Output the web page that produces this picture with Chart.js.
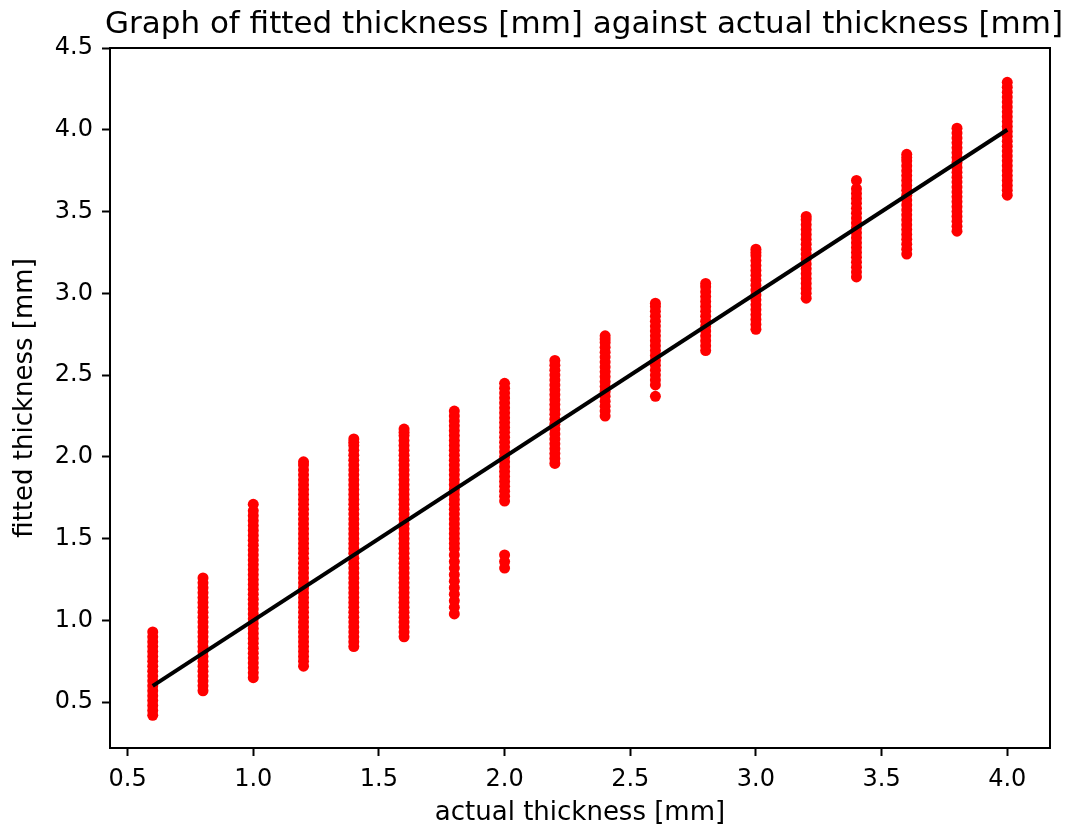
<!DOCTYPE html>
<html>
<head>
<meta charset="utf-8">
<script src="https://cdn.jsdelivr.net/npm/chart.js"></script>
<style>
html, body { margin: 0; padding: 0; background: #fff; }
</style>
</head>
<body>
<canvas id="mycanvas" width="1074" height="829"></canvas>
<script>
// actual thickness of each column [mm]
var actual = [0.6, 0.8, 1.0, 1.2, 1.4, 1.6, 1.8, 2.0, 2.2, 2.4, 2.6, 2.8, 3.0, 3.2, 3.4, 3.6, 3.8, 4.0];

// fitted thickness [mm]
var f06 = [0.42, 0.45, 0.48, 0.51, 0.54, 0.57, 0.60, 0.63, 0.66, 0.69, 0.72, 0.75, 0.78, 0.81, 0.84, 0.87, 0.90, 0.93];
var f08 = [0.57, 0.60, 0.63, 0.66, 0.69, 0.72, 0.75, 0.78, 0.81, 0.84, 0.87, 0.90, 0.93, 0.96, 0.99, 1.02, 1.05, 1.08, 1.11, 1.14, 1.17, 1.20, 1.23, 1.26];
var f10 = [0.65, 0.68, 0.71, 0.74, 0.77, 0.80, 0.83, 0.86, 0.89, 0.92, 0.95, 0.98, 1.01, 1.04, 1.07, 1.10, 1.13, 1.16, 1.19, 1.22, 1.25, 1.28, 1.31, 1.34, 1.37, 1.40, 1.43, 1.46, 1.49, 1.52, 1.55, 1.58, 1.61, 1.64, 1.67, 1.71];
var f12 = [0.72, 0.75, 0.78, 0.81, 0.84, 0.87, 0.90, 0.93, 0.96, 0.99, 1.02, 1.05, 1.08, 1.11, 1.14, 1.17, 1.20, 1.23, 1.26, 1.29, 1.32, 1.35, 1.38, 1.41, 1.44, 1.47, 1.50, 1.53, 1.56, 1.59, 1.62, 1.65, 1.68, 1.71, 1.74, 1.77, 1.80, 1.83, 1.86, 1.89, 1.92, 1.95, 1.97];
var f14 = [0.84, 0.87, 0.90, 0.93, 0.96, 0.99, 1.02, 1.05, 1.08, 1.11, 1.14, 1.17, 1.20, 1.23, 1.26, 1.29, 1.32, 1.35, 1.38, 1.41, 1.44, 1.47, 1.50, 1.53, 1.56, 1.59, 1.62, 1.65, 1.68, 1.71, 1.74, 1.77, 1.80, 1.83, 1.86, 1.89, 1.92, 1.95, 1.98, 2.01, 2.04, 2.07, 2.09, 2.11];
var f16 = [0.90, 0.93, 0.96, 0.99, 1.02, 1.05, 1.08, 1.11, 1.14, 1.17, 1.20, 1.23, 1.26, 1.29, 1.32, 1.35, 1.38, 1.41, 1.44, 1.47, 1.50, 1.53, 1.56, 1.59, 1.62, 1.65, 1.68, 1.71, 1.74, 1.77, 1.80, 1.83, 1.86, 1.89, 1.92, 1.95, 1.98, 2.01, 2.04, 2.07, 2.10, 2.13, 2.15, 2.17];
var f18 = [1.04, 1.08, 1.12, 1.16, 1.20, 1.24, 1.28, 1.32, 1.36, 1.40, 1.44, 1.47, 1.50, 1.53, 1.56, 1.59, 1.62, 1.65, 1.68, 1.71, 1.74, 1.77, 1.80, 1.83, 1.86, 1.89, 1.92, 1.95, 1.98, 2.01, 2.04, 2.07, 2.10, 2.13, 2.16, 2.19, 2.22, 2.25, 2.28];
var f20 = [1.32, 1.36, 1.40, 1.73, 1.76, 1.79, 1.82, 1.85, 1.88, 1.91, 1.94, 1.97, 2.00, 2.03, 2.06, 2.09, 2.12, 2.15, 2.18, 2.21, 2.24, 2.27, 2.30, 2.33, 2.36, 2.39, 2.42, 2.45];
var f22 = [1.96, 1.99, 2.02, 2.05, 2.08, 2.11, 2.14, 2.17, 2.20, 2.23, 2.26, 2.29, 2.32, 2.35, 2.38, 2.41, 2.44, 2.47, 2.50, 2.53, 2.56, 2.59];
var f24 = [2.25, 2.28, 2.31, 2.34, 2.37, 2.40, 2.43, 2.46, 2.49, 2.52, 2.55, 2.58, 2.61, 2.64, 2.67, 2.70, 2.72, 2.74];
var f26 = [2.37, 2.44, 2.47, 2.50, 2.53, 2.56, 2.59, 2.62, 2.65, 2.68, 2.71, 2.74, 2.77, 2.80, 2.83, 2.86, 2.89, 2.92, 2.94];
var f28 = [2.65, 2.68, 2.71, 2.74, 2.77, 2.80, 2.83, 2.86, 2.89, 2.92, 2.95, 2.98, 3.01, 3.04, 3.06];
var f30 = [2.78, 2.81, 2.84, 2.87, 2.90, 2.93, 2.96, 2.99, 3.02, 3.05, 3.08, 3.11, 3.14, 3.17, 3.20, 3.23, 3.25, 3.27];
var f32 = [2.97, 3.00, 3.03, 3.06, 3.09, 3.12, 3.15, 3.18, 3.21, 3.24, 3.27, 3.30, 3.33, 3.36, 3.39, 3.42, 3.45, 3.47];
var f34 = [3.10, 3.13, 3.16, 3.19, 3.22, 3.25, 3.28, 3.31, 3.34, 3.37, 3.40, 3.43, 3.46, 3.49, 3.52, 3.55, 3.58, 3.61, 3.64, 3.69];
var f36 = [3.24, 3.27, 3.30, 3.33, 3.36, 3.39, 3.42, 3.45, 3.48, 3.51, 3.54, 3.57, 3.60, 3.63, 3.66, 3.69, 3.72, 3.75, 3.78, 3.81, 3.83, 3.85];
var f38 = [3.38, 3.41, 3.44, 3.47, 3.50, 3.53, 3.56, 3.59, 3.62, 3.65, 3.68, 3.71, 3.74, 3.77, 3.80, 3.83, 3.86, 3.89, 3.92, 3.95, 3.98, 4.01];
var f40 = [3.60, 3.63, 3.66, 3.69, 3.72, 3.75, 3.78, 3.81, 3.84, 3.87, 3.90, 3.93, 3.96, 3.99, 4.02, 4.05, 4.08, 4.11, 4.14, 4.17, 4.20, 4.23, 4.26, 4.29];

// reference line y = x
var lineX = [0.6, 4.0];
var lineY = [0.6, 4.0];

var xTicks = [0.5, 1.0, 1.5, 2.0, 2.5, 3.0, 3.5, 4.0];
var yTicks = [0.5, 1.0, 1.5, 2.0, 2.5, 3.0, 3.5, 4.0, 4.5];

var titleText = "Graph of fitted thickness [mm] against actual thickness [mm]";

var fitted = [f06, f08, f10, f12, f14, f16, f18, f20, f22, f24, f26, f28, f30, f32, f34, f36, f38, f40];
var points = [];
for (var i = 0; i < actual.length; i++) {
  for (var j = 0; j < fitted[i].length; j++) {
    points.push({ x: actual[i], y: fitted[i][j] });
  }
}
var linePts = [];
for (var k = 0; k < lineX.length; k++) linePts.push({ x: lineX[k], y: lineY[k] });

var fontFam = '"DejaVu Sans", sans-serif';

// title over the axes + box round the plot
var framePlugin = {
  id: 'frame',
  afterDraw: function (chart) {
    var ctx = chart.ctx, a = chart.chartArea;
    ctx.save();
    ctx.strokeStyle = '#000';
    ctx.lineWidth = 2;
    ctx.strokeRect(a.left, a.top, a.right - a.left, a.bottom - a.top);
    ctx.fillStyle = '#000';
    ctx.font = '31px ' + fontFam;
    ctx.textAlign = 'center';
    ctx.textBaseline = 'alphabetic';
    ctx.fillText(titleText, (a.left + a.right) / 2 + 4, 33);
    ctx.restore();
  }
};

var ctx = document.getElementById('mycanvas');
var chart = new Chart(ctx, {
  type: 'scatter',
  data: {
    datasets: [
      {
        type: 'line',
        data: linePts,
        borderColor: '#000',
        borderWidth: 4,
        pointRadius: 0,
        fill: false,
        order: 0
      },
      {
        data: points,
        backgroundColor: '#ff0000',
        borderWidth: 0,
        pointRadius: 5.5,
        pointHoverRadius: 5.5,
        order: 1
      }
    ]
  },
  plugins: [framePlugin],
  options: {
    responsive: false,
    animation: false,
    devicePixelRatio: 1,
    layout: { padding: { top: 48, right: 24, left: 0, bottom: 0 } },
    plugins: { legend: { display: false }, tooltip: { enabled: false } },
    scales: {
      x: {
        type: 'linear',
        min: 0.43,
        max: 4.17,
        afterBuildTicks: function (s) { s.ticks = xTicks.map(function (v) { return { value: v }; }); },
        afterFit: function (s) { s.height = 81; },
        grid: { drawOnChartArea: false, drawTicks: true, tickLength: 8, tickWidth: 2, color: '#000' },
        border: { display: true, color: '#000', width: 2 },
        ticks: {
          color: '#000',
          padding: 9,
          maxRotation: 0,
          font: { family: fontFam, size: 24 },
          callback: function (v) { return v.toFixed(1); }
        },
        title: {
          display: true,
          text: 'actual thickness [mm]',
          color: '#000',
          font: { family: fontFam, size: 26 },
          padding: { top: 0, bottom: 0 }
        }
      },
      y: {
        type: 'linear',
        min: 0.22,
        max: 4.5,
        afterBuildTicks: function (s) { s.ticks = yTicks.map(function (v) { return { value: v }; }); },
        afterFit: function (s) { s.width = 110; },
        grid: { drawOnChartArea: false, drawTicks: true, tickLength: 8, tickWidth: 2, color: '#000' },
        border: { display: true, color: '#000', width: 2 },
        ticks: {
          color: '#000',
          padding: 9,
          font: { family: fontFam, size: 24 },
          callback: function (v) { return v.toFixed(1); }
        },
        title: {
          display: true,
          text: 'fitted thickness [mm]',
          color: '#000',
          font: { family: fontFam, size: 26 },
          padding: { top: 10, bottom: 0 }
        }
      }
    }
  }
});
</script>
</body>
</html>
